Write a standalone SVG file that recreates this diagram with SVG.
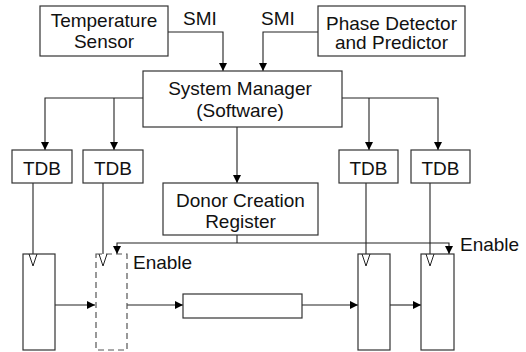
<svg xmlns="http://www.w3.org/2000/svg" width="526" height="352" viewBox="0 0 526 352">
<defs>
<marker id="ah" viewBox="0 0 10 10" refX="10" refY="5" markerWidth="8" markerHeight="8" markerUnits="userSpaceOnUse" orient="auto">
<path d="M0,0 L10,5 L0,10 z" fill="#000"/>
</marker>
<style>
.box{fill:#fff;stroke:#333;stroke-width:1.2}
.dash{fill:none;stroke:#555;stroke-width:1.2;stroke-dasharray:6,4}
.ln{fill:none;stroke:#222;stroke-width:1.1}
.arr{fill:none;stroke:#222;stroke-width:1.1;marker-end:url(#ah)}
.clk{fill:none;stroke:#222;stroke-width:1}
text{font-family:"Liberation Sans",Arial,Helvetica,sans-serif;font-size:19px;fill:#111}
.c{text-anchor:middle}
</style>
</defs>
<g id="connectors">
<polyline class="arr" points="168,32 223,32 223,71"/>
<polyline class="arr" points="318,32 263,32 263,71"/>
<polyline class="arr" points="143,98 45,98 45,150"/>
<polyline class="arr" points="114,98 114,150"/>
<polyline class="arr" points="342,98 438,98 438,150"/>
<polyline class="arr" points="369,98 369,150"/>
<polyline class="arr" points="237,127 237,183"/>
<polyline class="ln" points="237,235 237,243"/>
<polyline class="arr" points="237,243 117,243 117,254"/>
<polyline class="arr" points="237,243 449,243 449,254"/>
<polyline class="ln" points="33,183 33,254"/>
<polyline class="ln" points="103,183 103,254"/>
<polyline class="ln" points="366,183 366,254"/>
<polyline class="ln" points="430,183 430,254"/>
<polyline class="arr" points="55,305 95,305"/>
<polyline class="arr" points="127,305 183,305"/>
<polyline class="arr" points="302,305 358,305"/>
<polyline class="arr" points="390,305 421,305"/>
</g>
<g id="temp-sensor">
<rect class="box" x="40" y="6" width="128" height="50"/>
<text class="c" x="104" y="27">Temperature</text>
<text class="c" x="104" y="48">Sensor</text>
</g>
<g id="smi-left"><text x="183" y="25">SMI</text></g>
<g id="smi-right"><text x="261" y="25">SMI</text></g>
<g id="phase-detector">
<rect class="box" x="318" y="6" width="147" height="50"/>
<text class="c" x="391.5" y="30">Phase Detector</text>
<text class="c" x="391.5" y="49">and Predictor</text>
</g>
<g id="system-manager">
<rect class="box" x="143" y="71" width="199" height="56"/>
<text class="c" x="240" y="95">System Manager</text>
<text class="c" x="240" y="117">(Software)</text>
</g>
<g id="tdb1"><rect class="box" x="12" y="150" width="60" height="33"/><text class="c" x="42" y="175">TDB</text></g>
<g id="tdb2"><rect class="box" x="83" y="150" width="60" height="33"/><text class="c" x="113" y="175">TDB</text></g>
<g id="tdb3"><rect class="box" x="339" y="150" width="59" height="33"/><text class="c" x="368.5" y="175">TDB</text></g>
<g id="tdb4"><rect class="box" x="411" y="150" width="59" height="33"/><text class="c" x="440.5" y="175">TDB</text></g>
<g id="donor-creation-register">
<rect class="box" x="163" y="183" width="155" height="52"/>
<text class="c" x="240.5" y="207">Donor Creation</text>
<text class="c" x="240.5" y="228">Register</text>
</g>
<g id="enable-left"><text x="133" y="269">Enable</text></g>
<g id="enable-right"><text x="460" y="251">Enable</text></g>
<g id="reg1">
<rect class="box" x="23" y="254" width="32" height="96"/>
<polyline class="clk" points="29,254 33,266 37,254"/>
</g>
<g id="reg2">
<rect class="dash" x="96" y="254" width="31" height="96"/>
<polyline class="clk" points="99,254 103,266 107,254"/>
</g>
<g id="mid-block">
<rect class="box" x="183" y="294" width="119" height="24"/>
</g>
<g id="reg3">
<rect class="box" x="358" y="254" width="32" height="96"/>
<polyline class="clk" points="362,254 366,266 370,254"/>
</g>
<g id="reg4">
<rect class="box" x="421" y="254" width="33" height="96"/>
<polyline class="clk" points="426,254 430,266 434,254"/>
</g>
</svg>
